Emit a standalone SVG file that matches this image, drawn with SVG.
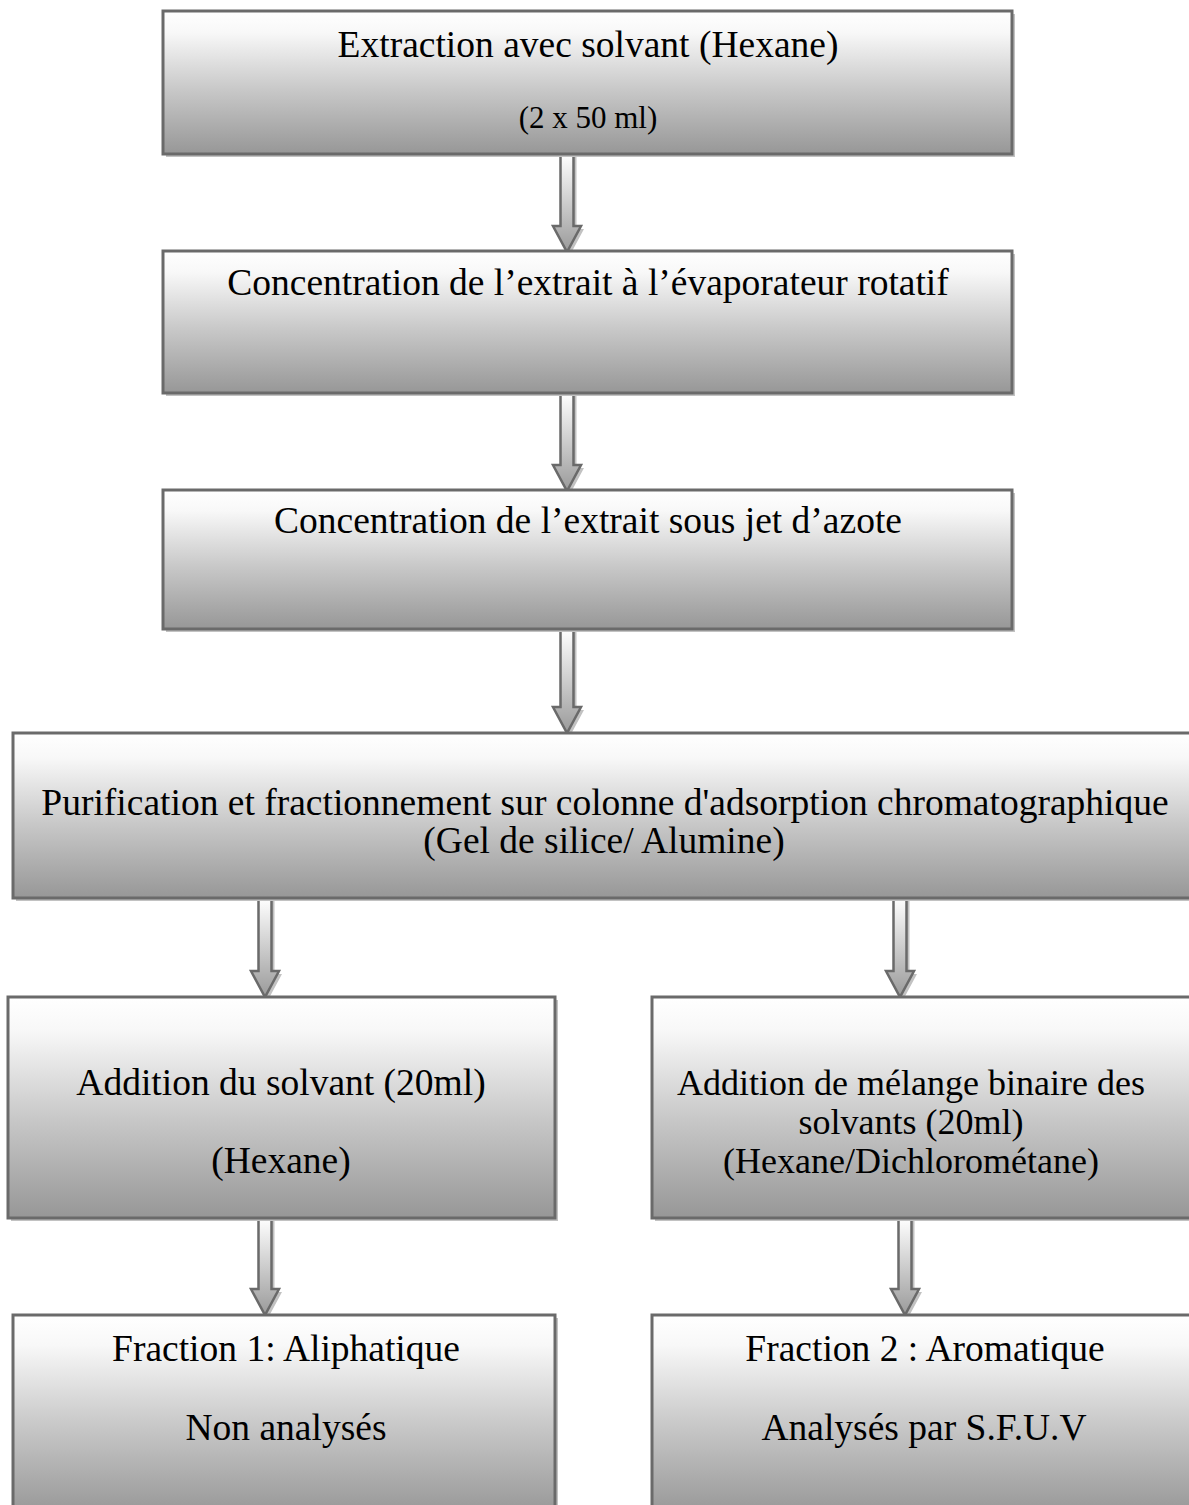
<svg xmlns="http://www.w3.org/2000/svg" width="1189" height="1505" viewBox="0 0 1189 1505">
<defs>
<linearGradient id="g" x1="0" y1="0" x2="0" y2="1">
<stop offset="0" stop-color="#ffffff"/>
<stop offset="0.15" stop-color="#f8f8f8"/>
<stop offset="0.55" stop-color="#c8c8c8"/>
<stop offset="1" stop-color="#979797"/>
</linearGradient>
<linearGradient id="ga" x1="0" y1="0" x2="0" y2="1">
<stop offset="0" stop-color="#ffffff"/>
<stop offset="1" stop-color="#9a9a9a"/>
</linearGradient>
</defs>
<style>
.box{fill:url(#g);stroke:#6a6a6a;stroke-width:3}
.sh{fill:#c2c2c2}
.arr{fill:url(#ga);stroke:#6a6a6a;stroke-width:2.5;stroke-linejoin:miter}
.ash{fill:#c2c2c2}
text{font-family:"Liberation Serif","Times New Roman",serif;fill:#000;text-anchor:middle}
.t{font-size:37.5px}
.s{font-size:31px}
.m{font-size:36px}
</style>
<rect width="1189" height="1505" fill="#ffffff"/>
<g id="connectors">
<g id="a1"><path class="ash" d="M563.5,157 h13 v72 h7.5 l-14,26 l-14,-26 h7.5 z"/><path class="arr" d="M560.5,154 h13 v72 h7.5 l-14,26 l-14,-26 h7.5 z"/></g>
<g id="a2"><path class="ash" d="M563.5,396 h13 v72 h7.5 l-14,26 l-14,-26 h7.5 z"/><path class="arr" d="M560.5,393 h13 v72 h7.5 l-14,26 l-14,-26 h7.5 z"/></g>
<g id="a3"><path class="ash" d="M563.5,632 h13 v78 h7.5 l-14,26 l-14,-26 h7.5 z"/><path class="arr" d="M560.5,629 h13 v78 h7.5 l-14,26 l-14,-26 h7.5 z"/></g>
<g id="a4"><path class="ash" d="M261.5,901 h13 v73 h7.5 l-14,26 l-14,-26 h7.5 z"/><path class="arr" d="M258.5,898 h13 v73 h7.5 l-14,26 l-14,-26 h7.5 z"/></g>
<g id="a5"><path class="ash" d="M896.5,901 h13 v73 h7.5 l-14,26 l-14,-26 h7.5 z"/><path class="arr" d="M893.5,898 h13 v73 h7.5 l-14,26 l-14,-26 h7.5 z"/></g>
<g id="a6"><path class="ash" d="M261.5,1221 h13 v71 h7.5 l-14,26 l-14,-26 h7.5 z"/><path class="arr" d="M258.5,1218 h13 v71 h7.5 l-14,26 l-14,-26 h7.5 z"/></g>
<g id="a7"><path class="ash" d="M901.5,1221 h13 v71 h7.5 l-14,26 l-14,-26 h7.5 z"/><path class="arr" d="M898.5,1218 h13 v71 h7.5 l-14,26 l-14,-26 h7.5 z"/></g>
</g>
<g id="n1"><rect class="sh" x="166" y="14" width="849" height="143"/><rect class="box" x="163" y="11" width="849" height="143"/>
<text class="t" x="588" y="57">Extraction avec solvant (Hexane)</text>
<text class="s" x="588" y="128">(2 x 50 ml)</text></g>
<g id="n2"><rect class="sh" x="166" y="254" width="849" height="142"/><rect class="box" x="163" y="251" width="849" height="142"/>
<text class="t" x="588" y="295">Concentration de l’extrait à l’évaporateur rotatif</text></g>
<g id="n3"><rect class="sh" x="166" y="493" width="849" height="139"/><rect class="box" x="163" y="490" width="849" height="139"/>
<text class="t" x="588" y="533">Concentration de l’extrait sous jet d’azote</text></g>
<g id="n4"><rect class="sh" x="16" y="736" width="1190" height="165"/><rect class="box" x="13" y="733" width="1190" height="165"/>
<text class="t" x="605" y="815">Purification et fractionnement sur colonne d'adsorption chromatographique</text>
<text class="t" x="604" y="853">(Gel de silice/ Alumine)</text></g>
<g id="n5"><rect class="sh" x="11" y="1000" width="547" height="221"/><rect class="box" x="8" y="997" width="547" height="221"/>
<text class="t" x="281" y="1095">Addition du solvant (20ml)</text>
<text class="t" x="281" y="1173">(Hexane)</text></g>
<g id="n6"><rect class="sh" x="655" y="1000" width="550" height="221"/><rect class="box" x="652" y="997" width="550" height="221"/>
<text class="m" x="911" y="1095">Addition de mélange binaire des</text>
<text class="m" x="911" y="1134">solvants (20ml)</text>
<text class="m" x="911" y="1173">(Hexane/Dichlorométane)</text></g>
<g id="n7"><rect class="sh" x="16" y="1318" width="542" height="200"/><rect class="box" x="13" y="1315" width="542" height="200"/>
<text class="t" x="286" y="1361">Fraction 1: Aliphatique</text>
<text class="t" x="286" y="1440">Non analysés</text></g>
<g id="n8"><rect class="sh" x="655" y="1318" width="550" height="200"/><rect class="box" x="652" y="1315" width="550" height="200"/>
<text class="t" x="925" y="1361">Fraction 2 : Aromatique</text>
<text class="t" x="924" y="1440">Analysés par S.F.U.V</text></g>
</svg>
